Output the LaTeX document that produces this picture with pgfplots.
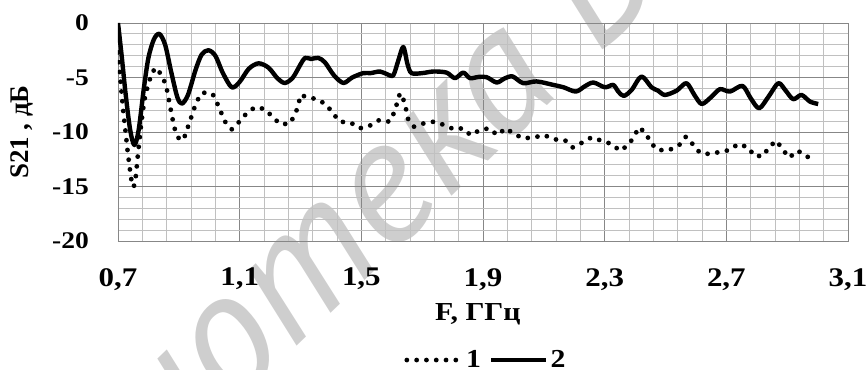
\documentclass[border=0pt]{standalone}
\usepackage{fontspec}
\setmainfont{Liberation Serif}[FakeStretch=1.15]
\newfontfamily\ylfont{Liberation Serif}
\newfontfamily\wmfont{PT Sans}
\usepackage{pgfplots}
\usepackage{pgfplotstable}
\pgfplotsset{compat=1.18}
\definecolor{majgrid}{RGB}{135,135,135}
\definecolor{mingrid}{RGB}{192,192,192}
\definecolor{wm}{RGB}{206,206,206}

\pgfplotstableread{
x y
0.700 0.0
0.712 -3.0
0.725 -6.5
0.740 -9.8
0.754 -11.2
0.768 -9.8
0.785 -6.0
0.800 -3.2
0.818 -1.5
0.836 -1.0
0.855 -2.0
0.875 -4.5
0.895 -6.8
0.910 -7.4
0.930 -6.6
0.955 -4.3
0.975 -2.9
0.997 -2.5
1.020 -3.0
1.045 -4.6
1.074 -5.9
1.100 -5.4
1.130 -4.2
1.162 -3.7
1.195 -4.1
1.225 -5.1
1.249 -5.5
1.275 -5.0
1.300 -3.8
1.315 -3.2
1.335 -3.3
1.358 -3.2
1.380 -3.6
1.410 -4.8
1.441 -5.5
1.470 -5.0
1.506 -4.6
1.530 -4.6
1.561 -4.45
1.585 -4.7
1.605 -4.8
1.622 -3.4
1.638 -2.2
1.652 -3.8
1.665 -4.6
1.700 -4.6
1.737 -4.45
1.780 -4.55
1.808 -5.06
1.835 -4.55
1.857 -5.06
1.885 -4.95
1.912 -4.97
1.945 -5.46
1.970 -5.1
1.997 -4.9
2.032 -5.52
2.076 -5.36
2.131 -5.68
2.165 -5.9
2.205 -6.29
2.235 -5.8
2.263 -5.46
2.301 -5.9
2.328 -5.68
2.345 -6.3
2.363 -6.69
2.389 -6.13
2.421 -4.91
2.454 -5.9
2.475 -6.2
2.498 -6.6
2.537 -6.2
2.569 -5.52
2.595 -6.6
2.619 -7.43
2.650 -6.8
2.679 -6.07
2.712 -6.29
2.753 -5.77
2.780 -6.9
2.808 -7.82
2.840 -6.7
2.871 -5.52
2.895 -6.2
2.920 -6.99
2.947 -6.6
2.975 -7.21
3.002 -7.43
}\seriesB

\pgfplotstableread{
x y
0.700 -2.7
0.706 -4.6
0.712 -6.5
0.718 -8.3
0.725 -10.0
0.731 -11.6
0.738 -13.2
0.743 -14.2
0.747 -15.0
0.752 -15.0
0.757 -14.5
0.761 -13.4
0.765 -12.2
0.770 -10.9
0.775 -9.6
0.782 -8.0
0.790 -6.6
0.800 -5.6
0.812 -4.5
0.827 -4.1
0.845 -4.9
0.858 -5.7
0.871 -7.6
0.885 -9.6
0.900 -10.6
0.915 -10.74
0.937 -8.96
0.958 -7.21
0.978 -6.38
1.011 -6.5
1.026 -7.36
1.052 -9.05
1.074 -9.75
1.099 -9.05
1.123 -8.28
1.150 -7.73
1.181 -7.88
1.208 -8.59
1.232 -9.26
1.263 -9.26
1.282 -8.44
1.293 -7.51
1.300 -6.6
1.322 -6.81
1.355 -6.99
1.386 -7.51
1.406 -8.28
1.430 -9.05
1.465 -9.14
1.495 -9.66
1.526 -9.45
1.559 -8.9
1.592 -9.05
1.608 -8.22
1.618 -7.3
1.627 -6.44
1.638 -6.99
1.647 -7.91
1.654 -8.83
1.673 -9.51
1.706 -9.2
1.739 -9.05
1.773 -9.36
1.804 -9.75
1.833 -9.66
1.859 -10.28
1.890 -9.82
1.920 -9.66
1.947 -10.28
1.975 -9.66
2.003 -10.19
2.032 -10.58
2.067 -10.5
2.101 -10.28
2.133 -10.67
2.169 -10.74
2.195 -11.41
2.224 -11.0
2.257 -10.49
2.290 -10.8
2.323 -11.1
2.350 -11.72
2.378 -11.2
2.396 -10.43
2.413 -9.57
2.436 -10.12
2.451 -11.0
2.476 -11.66
2.512 -11.66
2.545 -11.2
2.567 -10.43
2.589 -11.1
2.613 -11.9
2.644 -12.02
2.677 -11.84
2.710 -11.66
2.739 -11.1
2.772 -11.41
2.792 -12.2
2.821 -12.2
2.841 -11.35
2.865 -10.8
2.885 -11.6
2.907 -12.35
2.933 -11.72
2.962 -12.1
2.986 -12.88
}\seriesA

\begin{document}
\begin{tikzpicture}
\path[use as bounding box] (-118bp,-129bp) rectangle (750bp,241bp);
\node[rotate=44, anchor=base west, text=wm, inner sep=0pt,
      font=\wmfont\itshape\fontsize{176}{176}\selectfont] at (112bp,-170bp) {отека БГУИР};
\node[rotate=44, anchor=base east, text=wm, inner sep=0pt,
      font=\wmfont\itshape\fontsize{176}{176}\selectfont] at (112bp,-170bp) {Библи};
\begin{axis}[
  at={(0,0)}, anchor=south west,
  scale only axis, width=730bp, height=218bp,
  xmin=0.7, xmax=3.1, ymin=-20, ymax=0,
  xtick={0.7,1.1,1.5,1.9,2.3,2.7,3.1},
  xticklabels={{0,7},{1,1},{1,5},{1,9},{2,3},{2,7},{3,1}},
  ytick={-20,-15,-10,-5,0},
  yticklabels={-20,-15,-10,-5,0},
  minor x tick num=4, minor y tick num=4,
  grid=both,
  major grid style={draw=majgrid, line width=0.9bp},
  minor grid style={draw=mingrid, line width=0.8bp},
  axis line style={draw=majgrid, line width=0.9bp},
  major tick length=0pt, minor tick length=0pt,
  xticklabel style={font=\bfseries\fontsize{27}{27}\selectfont, inner sep=0pt, anchor=north, yshift=-27bp},
  yticklabel style={font=\bfseries\fontsize{24}{24}\selectfont, inner sep=0pt, anchor=east, xshift=-29bp},
  xlabel={F, ГГц}, ylabel={S21 , дБ},
  every axis x label/.style={at={(axis description cs:0.493,-0.335)}, anchor=center,
      font=\bfseries\fontsize{26}{26}\selectfont},
  every axis y label/.style={at={(axis description cs:-0.1315,0.5)}, anchor=center, rotate=90,
      font=\ylfont\bfseries\fontsize{27}{27}\selectfont},
  legend columns=2,
  legend style={at={(axis description cs:0.504,-0.546)}, anchor=center, draw=none, fill=none,
      font=\bfseries\fontsize{26}{26}\selectfont,
      /tikz/every even column/.append style={column sep=6bp}},
  legend image code/.code={\draw[#1] (0bp,0bp) -- (55bp,0bp);},
]
\addplot[black, line width=4.8bp, line cap=round, dash pattern=on 0bp off 9.8bp] table[x=x,y=y] {\seriesA};
\addplot[black, line width=4.4bp, line join=round, smooth, tension=0.5] table[x=x,y=y] {\seriesB};
\legend{1,2}
\end{axis}
\end{tikzpicture}
\end{document}
